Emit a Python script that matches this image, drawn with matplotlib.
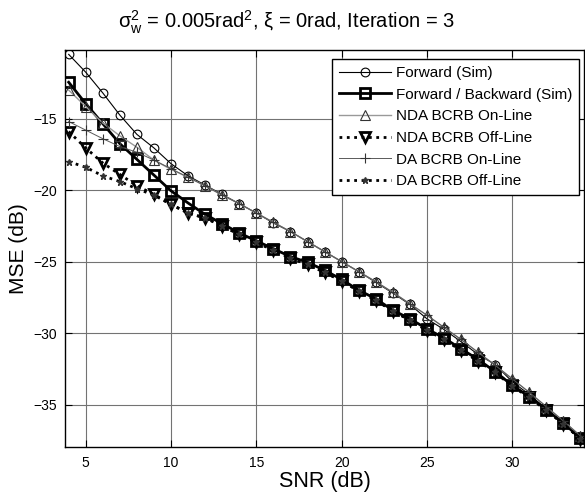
import matplotlib
matplotlib.use("Agg")
import numpy as np
import matplotlib.pyplot as plt

plt.rcParams["font.family"] = ["Liberation Sans", "DejaVu Sans"]
plt.rcParams["mathtext.fontset"] = "custom"
plt.rcParams["mathtext.rm"] = "Liberation Sans"
plt.rcParams["mathtext.it"] = "Liberation Sans"
plt.rcParams["mathtext.bf"] = "Liberation Sans:bold"

# ── Data ────────────────────────────────────────────────────────────────
snr = list(range(4, 35))

fwd_sim = [-10.5, -11.75, -13.2, -14.75, -16.1, -17.05, -18.15, -19.0, -19.65, -20.3,
           -20.95, -21.6, -22.3, -22.9, -23.6, -24.3, -25.0, -25.7, -26.45, -27.2,
           -28.0, -29.0, -29.75, -30.6, -31.5, -32.2, -33.4, -34.3, -35.3, -36.3, -37.25]

fb_sim = [-12.45, -13.95, -15.35, -16.75, -17.85, -18.95, -20.05, -20.9, -21.7, -22.35,
          -23.0, -23.55, -24.1, -24.65, -25.05, -25.6, -26.25, -27.0, -27.6, -28.4,
          -29.0, -29.7, -30.35, -31.1, -31.85, -32.7, -33.65, -34.45, -35.35, -36.3, -37.35]

nda_on = [-13.0, -14.15, -15.3, -16.2, -17.0, -17.9, -18.55, -19.1, -19.7, -20.35,
          -20.95, -21.6, -22.25, -22.9, -23.6, -24.3, -25.0, -25.7, -26.4, -27.15,
          -27.95, -28.75, -29.6, -30.45, -31.35, -32.25, -33.2, -34.15, -35.15, -36.15, -37.2]

nda_off = [-15.9, -17.05, -18.1, -18.9, -19.7, -20.3, -21.0, -21.6, -21.95, -22.5,
           -23.1, -23.65, -24.2, -24.75, -25.2, -25.75, -26.35, -27.05, -27.7, -28.45,
           -29.1, -29.8, -30.45, -31.2, -31.95, -32.75, -33.7, -34.5, -35.4, -36.35, -37.4]

da_on = [-15.2, -15.8, -16.4, -16.95, -17.35, -17.9, -18.5, -19.1, -19.7, -20.35,
         -20.95, -21.6, -22.25, -22.9, -23.6, -24.3, -25.0, -25.7, -26.4, -27.15,
         -27.95, -28.75, -29.6, -30.45, -31.35, -32.25, -33.2, -34.15, -35.15, -36.15, -37.2]

da_off = [-18.0, -18.4, -19.0, -19.4, -19.9, -20.35, -21.0, -21.6, -21.95, -22.5,
          -23.1, -23.65, -24.2, -24.75, -25.2, -25.75, -26.35, -27.05, -27.7, -28.45,
          -29.1, -29.8, -30.45, -31.2, -31.95, -32.75, -33.7, -34.5, -35.4, -36.35, -37.4]

xticks = [5, 10, 15, 20, 25, 30]
yticks = [-35, -30, -25, -20, -15]

fig = plt.figure(figsize=(5.85, 5.01), dpi=100)
ax = fig.add_axes([0.1116, 0.107, 0.8864, 0.793])

ax.plot(snr, fwd_sim, color="black", lw=0.8, marker="o", ms=6.3, mfc="none",
        mec="black", mew=0.8, label="Forward (Sim)")
ax.plot(snr, fb_sim, color="black", lw=2.0, marker="s", ms=6.5, mfc="none",
        mec="black", mew=2.0, label="Forward / Backward (Sim)")
ax.plot(snr, nda_on, color="0.6", lw=1.0, marker="^", ms=6.5, mfc="none",
        mec="0.2", mew=0.8, label="NDA BCRB On-Line")
ax.plot(snr, nda_off, color="black", lw=2.0, ls=":", marker="v", ms=7.5, mfc="none",
        mec="black", mew=2.0, label="NDA BCRB Off-Line")
ax.plot(snr, da_on, color="0.35", lw=0.7, marker="+", ms=7.5, mec="0.2", mew=0.8,
        label="DA BCRB On-Line")
ax.plot(snr, da_off, color="black", lw=2.0, ls=":", marker="*", ms=4.5,
        mec="0.2", mfc="0.2", label="DA BCRB Off-Line")

ax.set_xlim(3.8, 34.2)
ax.set_ylim(-38, -10.2)
ax.set_xticks(xticks)
ax.set_yticks(yticks)
ax.tick_params(direction="in", top=True, right=True, length=5, width=0.8,
               labelsize=10, pad=6)
ax.grid(True, color="0.45", lw=0.8)
for sp in ax.spines.values():
    sp.set_linewidth(1.0)

ax.set_xlabel("SNR (dB)", fontsize=15.5, labelpad=1)
ax.set_ylabel("MSE (dB)", fontsize=15, labelpad=4)
fig.text(0.49, 0.955,
         r"$\mathregular{\sigma_w^2}$ = 0.005rad$^\mathregular{2}$, $\xi$ = 0rad, Iteration = 3",
         fontsize=14.5, ha="center", va="center")

leg = ax.legend(loc="upper right", bbox_to_anchor=(0.9906, 0.977), borderaxespad=0,
                fontsize=11, handlelength=3.4, handletextpad=0.3, labelspacing=0.5,
                borderpad=0.45, fancybox=False, framealpha=1, edgecolor="black")
leg.get_frame().set_linewidth(1.0)

fig.savefig("out.png", dpi=100)
